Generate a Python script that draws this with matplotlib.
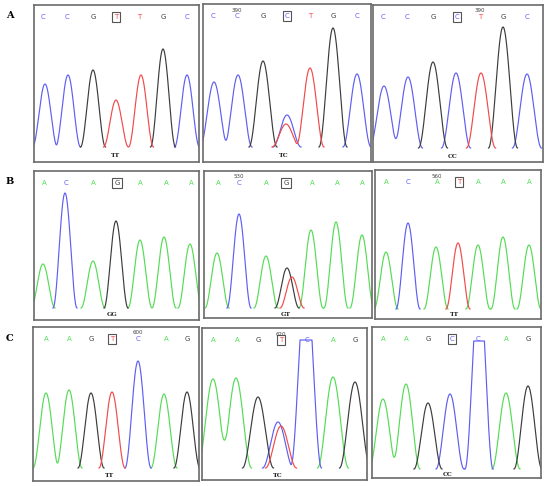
import numpy as np
import matplotlib
matplotlib.use("Agg")
import matplotlib.pyplot as plt

W, H = 550, 486

base_colors = {"A": "#55dc55", "C": "#5e5ef4", "G": "#3c3c3c", "T": "#f24a4a"}

# ---- row A ----
a1_calls = "CCGTTGC"
a1_call_x = [9, 33, 59, 82, 105, 129, 153]
a1_peak_base = "CCGTTGC"
a1_peak_x = [11, 34, 59, 82, 107, 129, 153]
a1_peak_h = [63, 72, 77, 47, 72, 98, 72]

a2_calls = "CCGCTGC"
a2_call_x = [10, 34, 60, 84, 107, 130, 154]
a2_peak_base = "CCGCTTGC"
a2_peak_x = [11, 35, 60, 84, 83, 107, 130, 154]
a2_peak_h = [65, 72, 86, 32, 23, 79, 119, 73]

a3_calls = "CCGCTGC"
a3_call_x = [10, 34, 60, 84, 107, 130, 154]
a3_peak_base = "CCGCTGC"
a3_peak_x = [11, 35, 60, 83, 108, 130, 154]
a3_peak_h = [62, 71, 86, 75, 75, 121, 74]

# ---- row B ----
b1_calls = "ACAGAAA"
b1_call_x = [10, 32, 59, 83, 106, 132, 157]
b1_peak_base = "ACAGAAA"
b1_peak_x = [9, 31, 59, 82, 106, 130, 156]
b1_peak_h = [44, 115, 47, 87, 68, 71, 64]

b2_calls = "ACAGAAA"
b2_call_x = [14, 35, 62, 82, 108, 133, 158]
b2_peak_base = "ACAGTAAA"
b2_peak_x = [13, 35, 62, 83, 88, 107, 132, 158]
b2_peak_h = [55, 94, 52, 40, 31, 78, 86, 73]

b3_calls = "ACATAAA"
b3_call_x = [11, 33, 62, 84, 103, 128, 154]
b3_peak_base = "ACATAAA"
b3_peak_x = [11, 33, 61, 83, 103, 128, 154]
b3_peak_h = [57, 86, 62, 66, 64, 72, 64]

# ---- row C ----
c1_calls = "AAGTCAG"
c1_call_x = [13, 36, 58, 79, 105, 133, 154]
c1_peak_base = "AAGTCAG"
c1_peak_x = [13, 36, 58, 79, 105, 131, 154]
c1_peak_h = [75, 78, 75, 76, 107, 74, 76]

c2_calls = "AAGTCAG"
c2_call_x = [11, 35, 56, 79, 105, 131, 153]
c2_peak_base = "AAGCTCAG"
c2_peak_x = [11, 34, 56, 76, 79, 104, 131, 153]
c2_peak_h = [89, 90, 71, 46, 42, 190, 91, 86]

c3_calls = "AAGCCAG"
c3_call_x = [11, 34, 56, 80, 106, 134, 156]
c3_peak_base = "AAGCCAG"
c3_peak_x = [11, 34, 56, 78, 107, 134, 156]
c3_peak_h = [70, 85, 66, 75, 190, 76, 83]

genotypes = ["TT", "TC", "CC", "GG", "GT", "TT", "TT", "TC", "CC"]
geno_x = [82, 81, 80, 78, 82, 80, 77, 76, 76]
snp_index = 3
pos_labels = [None, ("390", 1), ("390", 4), None, ("530", 1), ("560", 2),
              ("600", 4), ("620", 3), None]
row_labels = ["A", "B", "C"]

# panel boxes in pixels: left, right, top, bottom, baseline
boxes = [
    (34, 199, 5, 162, 147), (203, 371, 4, 162, 147), (373, 543, 5, 162, 148),
    (34, 199, 171, 320, 308), (204, 372, 171, 318, 308), (375, 541, 170, 319, 309),
    (33, 199, 327, 481, 468), (202, 367, 328, 480, 468), (372, 541, 327, 478, 469),
]
peak_w = [12.5, 14, 14.5, 12, 12, 12, 13, 15.5, 14]
cap = 128

panels = [
    (a1_calls, a1_call_x, a1_peak_base, a1_peak_x, a1_peak_h),
    (a2_calls, a2_call_x, a2_peak_base, a2_peak_x, a2_peak_h),
    (a3_calls, a3_call_x, a3_peak_base, a3_peak_x, a3_peak_h),
    (b1_calls, b1_call_x, b1_peak_base, b1_peak_x, b1_peak_h),
    (b2_calls, b2_call_x, b2_peak_base, b2_peak_x, b2_peak_h),
    (b3_calls, b3_call_x, b3_peak_base, b3_peak_x, b3_peak_h),
    (c1_calls, c1_call_x, c1_peak_base, c1_peak_x, c1_peak_h),
    (c2_calls, c2_call_x, c2_peak_base, c2_peak_x, c2_peak_h),
    (c3_calls, c3_call_x, c3_peak_base, c3_peak_x, c3_peak_h),
]


def draw_trace(ax, bases, xs, hs, width, xmax):
    x = np.linspace(-20, xmax + 20, 3000)
    for b in "ACGT":
        y = np.zeros_like(x)
        for bb, x0, h in zip(bases, xs, hs):
            if bb != b:
                continue
            d = np.abs(x - x0)
            y += np.where(d < width, h * (0.5 + 0.5 * np.cos(np.pi * d / width)), 0)
        if not y.any():
            continue
        y = np.minimum(y, cap)
        on = y > 0
        on = on | np.roll(on, 1) | np.roll(on, -1)
        ax.plot(x, np.where(on, y, np.nan), color=base_colors[b], lw=0.85)


fig = plt.figure(figsize=(W / 100, H / 100), dpi=100)
fig.patch.set_facecolor("white")

for i, (box, data) in enumerate(zip(boxes, panels)):
    left, right, top, bottom, base = box
    calls, call_x, pk_base, pk_x, pk_h = data
    ax = fig.add_axes([left / W, 1 - bottom / H, (right - left) / W, (bottom - top) / H])
    ax.set_xlim(0, right - left)
    ax.set_ylim(-(bottom - base), base - top)
    ax.set_xticks([])
    ax.set_yticks([])
    for s in ax.spines.values():
        s.set_color("#6a6a6a")
        s.set_linewidth(1.2)

    draw_trace(ax, pk_base, pk_x, pk_h, peak_w[i], right - left)

    letter_y = base - (top + 12)
    for j, (c, cx) in enumerate(zip(calls, call_x)):
        kw = {}
        if j == snp_index:
            kw["bbox"] = dict(boxstyle="square,pad=0.3", fc="white", ec="#555555", lw=0.8)
        ax.text(cx, letter_y, c, ha="center", va="center", fontsize=5,
                color=base_colors[c], **kw)

    if pos_labels[i] is not None:
        lab, k = pos_labels[i]
        ax.text(call_x[k], base - (top + 6), lab, ha="center", va="center",
                fontsize=4, color="#444444")

    ax.text(geno_x[i], -(bottom - base) / 2 - 1, genotypes[i], ha="center", va="center",
            fontsize=4.5, fontweight="bold", family="DejaVu Serif", color="#222222")

for r, lab in enumerate(row_labels):
    top = boxes[r * 3][2]
    fig.text(10 / W, 1 - (top + 11) / H, lab, ha="center", va="center",
             fontsize=7, fontweight="bold", family="DejaVu Serif")

fig.savefig("out.png", dpi=100)
